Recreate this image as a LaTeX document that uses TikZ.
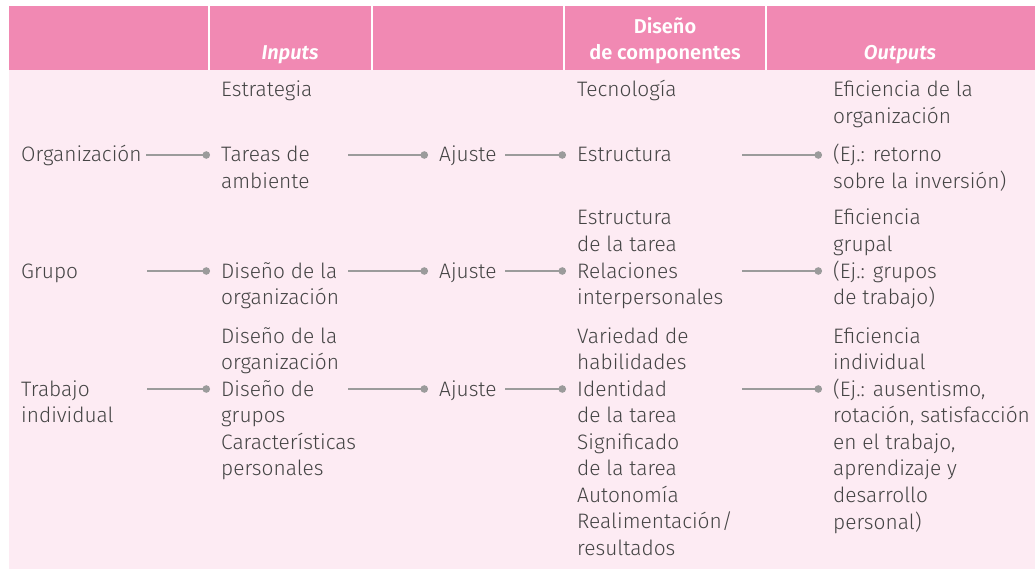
\documentclass[tikz,border=0pt]{standalone}
\usepackage{fontspec}
\setmainfont{Fira Sans}[UprightFont={* Light}, ItalicFont={* Light Italic}, BoldFont={* SemiBold}, BoldItalicFont={* SemiBold Italic}]
\usetikzlibrary{arrows.meta}

\definecolor{headpink}{HTML}{F189B3}
\definecolor{bodypink}{HTML}{FDEBF3}
\definecolor{txtgray}{HTML}{444444}
\definecolor{linkgray}{HTML}{9B9B9B}

\newcommand{\celltop}[1]{\begin{tabular}[t]{@{}l@{}}#1\end{tabular}}
\newcommand{\cellbot}[1]{\begin{tabular}[b]{@{}c@{}}#1\end{tabular}}

\tikzset{
  body/.style={anchor=base west, inner sep=0pt, text=txtgray, font=\fontsize{20.9}{26.6}\selectfont},
  head/.style={anchor=base, inner sep=0pt, text=white, font=\fontsize{20}{26.6}\selectfont\bfseries},
  link/.style={linkgray, line width=1.4pt, shorten >=11pt, -{Circle[length=7.5pt]}},
  sep/.style={white, line width=2pt},
}

\begin{document}
\begin{tikzpicture}[x=1pt,y=1pt]
\useasboundingbox (0,0) rectangle (1035,-569);

% Background bands
\fill[bodypink] (9,-70) rectangle (1035,-569);
\fill[headpink] (9,-6) rectangle (1035,-70);
\draw[sep] (209,-6) -- (209,-70);
\draw[sep] (372,-6) -- (372,-70);
\draw[sep] (564,-6) -- (564,-70);
\draw[sep] (766,-6) -- (766,-70);

% Header
\node[head] (hinputs) at (290,-60) {\itshape Inputs};
\node[head] (hdiseno) at (665,-60) {\cellbot{Diseño\\de componentes}};
\node[head] (houtputs) at (900,-60) {\itshape Outputs};

% Levels
\node[body] (organiz) at (21,-162) {Organización};
\node[body] (grupo) at (21,-278) {Grupo};
\node[body] (trabajo) at (21,-396) {\celltop{Trabajo\\individual}};

% Inputs
\node[body] (estrat) at (221,-97) {Estrategia};
\node[body] (tareas) at (221,-162) {\celltop{Tareas de\\ambiente}};
\node[body] (disorg) at (221,-278) {\celltop{Diseño de la\\organización}};
\node[body] (disorgb) at (221,-343) {\celltop{Diseño de la\\organización}};
\node[body] (disgru) at (221,-396) {\celltop{Diseño de\\grupos}};
\node[body] (caract) at (221,-449) {\celltop{Características\\personales}};

% Fit
\node[body] (ajustea) at (439,-162) {Ajuste};
\node[body] (ajusteb) at (439,-278) {Ajuste};
\node[body] (ajustec) at (439,-396) {Ajuste};

% Component design
\node[body] (tecno) at (577,-97) {Tecnología};
\node[body] (estruc) at (577,-162) {Estructura};
\node[body] (estarea) at (577,-225) {\celltop{Estructura\\de la tarea}};
\node[body] (relac) at (577,-278) {\celltop{Relaciones\\interpersonales}};
\node[body] (varied) at (577,-343) {\celltop{Variedad de\\habilidades}};
\node[body] (ident) at (577,-396) {\celltop{Identidad\\de la tarea}};
\node[body] (signif) at (577,-449) {\celltop{Significado\\de la tarea\\Autonomía\\Realimentación/\\resultados}};

% Outputs
\node[body] (eforg) at (833,-97) {\celltop{Eficiencia de la\\organización}};
\node[body] (ejorg) at (833,-162) {\celltop{(Ej.: retorno\\sobre la inversión)}};
\node[body] (efgru) at (833,-225) {\celltop{Eficiencia\\grupal}};
\node[body] (ejgru) at (833,-278) {\celltop{(Ej.: grupos\\de trabajo)}};
\node[body] (efind) at (833,-343) {\celltop{Eficiencia\\individual}};
\node[body] (ejind) at (833,-396) {\celltop{(Ej.: ausentismo,\\rotación, satisfacción\\en el trabajo,\\aprendizaje y\\desarrollo\\personal)}};

% Connector tails
\coordinate (ta1) at (146,-155);
\coordinate (tb1) at (348,-155);
\coordinate (tc1) at (505,-155);
\coordinate (td1) at (742,-155);
\coordinate (ta2) at (147,-271);
\coordinate (tb2) at (348,-271);
\coordinate (tc2) at (505,-271);
\coordinate (td2) at (742,-271);
\coordinate (ta3) at (147,-389);
\coordinate (tb3) at (348,-389);
\coordinate (tc3) at (505,-389);
\coordinate (td3) at (742,-389);

% Connectors
\draw[link] (ta1) -- (ta1 -| tareas.west);
\draw[link] (tb1) -- (tb1 -| ajustea.west);
\draw[link] (tc1) -- (tc1 -| estruc.west);
\draw[link] (td1) -- (td1 -| ejorg.west);
\draw[link] (ta2) -- (ta2 -| disorg.west);
\draw[link] (tb2) -- (tb2 -| ajusteb.west);
\draw[link] (tc2) -- (tc2 -| relac.west);
\draw[link] (td2) -- (td2 -| ejgru.west);
\draw[link] (ta3) -- (ta3 -| disgru.west);
\draw[link] (tb3) -- (tb3 -| ajustec.west);
\draw[link] (tc3) -- (tc3 -| ident.west);
\draw[link] (td3) -- (td3 -| ejind.west);

\end{tikzpicture}
\end{document}
